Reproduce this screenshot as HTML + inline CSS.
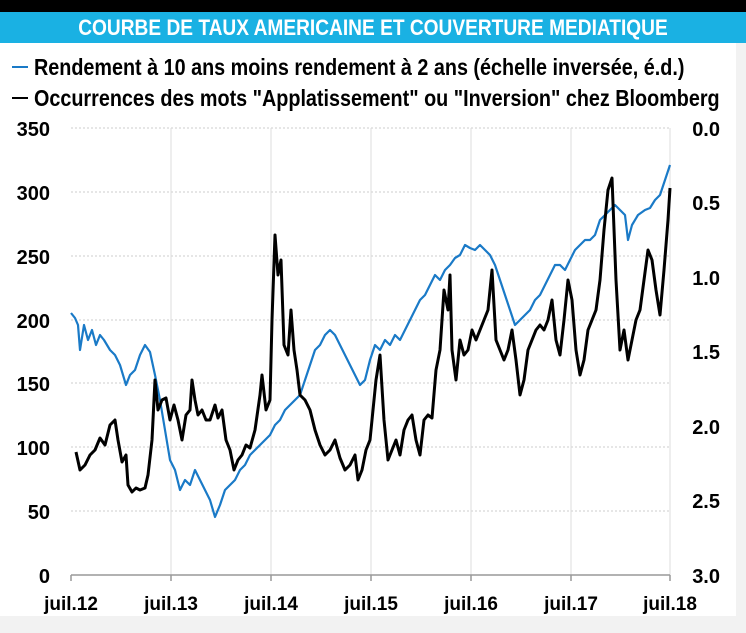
<!DOCTYPE html>
<html><head><meta charset="utf-8"><style>
body{margin:0;width:746px;height:628px;background:#f2f2f2;overflow:hidden;font-family:"Liberation Sans",sans-serif}
svg text{font-family:"Liberation Sans",sans-serif;font-weight:bold}
</style></head><body>
<svg width="746" height="628" xmlns="http://www.w3.org/2000/svg">
<rect x="0" y="0" width="746" height="12" fill="#000"/>
<rect x="0" y="12" width="746" height="31" fill="#1ab1e3"/>
<rect x="0" y="43" width="736" height="573" fill="#fff"/>
<text x="373" y="35" text-anchor="middle" fill="#fff" font-size="22" transform="translate(373,0) scale(0.87,1) translate(-373,0)">COURBE DE TAUX AMERICAINE ET COUVERTURE MEDIATIQUE</text>
<line x1="12" y1="67" x2="28" y2="67" stroke="#1a7ac7" stroke-width="2"/>
<text x="34" y="75" font-size="23" fill="#000" transform="translate(34,0) scale(0.86,1) translate(-34,0)">Rendement à 10 ans moins rendement à 2 ans (échelle inversée, é.d.)</text>
<line x1="12" y1="98" x2="28" y2="98" stroke="#000" stroke-width="2"/>
<text x="34" y="106" font-size="23" fill="#000" transform="translate(34,0) scale(0.86,1) translate(-34,0)">Occurrences des mots "Applatissement" ou "Inversion"  chez Bloomberg</text>
<g stroke="#ccc" stroke-width="1" stroke-dasharray="2,2">
<line x1="71" y1="128" x2="670" y2="128"/><line x1="71" y1="192" x2="670" y2="192"/><line x1="71" y1="256" x2="670" y2="256"/><line x1="71" y1="320" x2="670" y2="320"/><line x1="71" y1="383" x2="670" y2="383"/><line x1="71" y1="447" x2="670" y2="447"/><line x1="71" y1="511" x2="670" y2="511"/>
</g>
<g stroke="#ddd" stroke-width="1">
<line x1="171" y1="128" x2="171" y2="575"/><line x1="271" y1="128" x2="271" y2="575"/><line x1="371" y1="128" x2="371" y2="575"/><line x1="471" y1="128" x2="471" y2="575"/><line x1="571" y1="128" x2="571" y2="575"/><line x1="670" y1="128" x2="670" y2="575"/>
</g>
<g stroke="#999" stroke-width="1.5">
<line x1="71" y1="575" x2="670" y2="575"/>
<line x1="71" y1="575" x2="71" y2="581"/><line x1="171" y1="575" x2="171" y2="581"/><line x1="271" y1="575" x2="271" y2="581"/><line x1="371" y1="575" x2="371" y2="581"/><line x1="471" y1="575" x2="471" y2="581"/><line x1="571" y1="575" x2="571" y2="581"/><line x1="670" y1="575" x2="670" y2="581"/>
</g>
<g font-size="20" fill="#000" text-anchor="end">
<text x="50" y="136">350</text><text x="50" y="200">300</text><text x="50" y="264">250</text><text x="50" y="328">200</text><text x="50" y="391">150</text><text x="50" y="455">100</text><text x="50" y="519">50</text><text x="50" y="583">0</text>
</g>
<g font-size="20" fill="#000" text-anchor="end">
<text x="720" y="136">0.0</text><text x="720" y="210">0.5</text><text x="720" y="285">1.0</text><text x="720" y="359">1.5</text><text x="720" y="434">2.0</text><text x="720" y="508">2.5</text><text x="720" y="583">3.0</text>
</g>
<g font-size="19" fill="#000" text-anchor="middle">
<text x="71" y="610">juil.12</text><text x="171" y="610">juil.13</text><text x="271" y="610">juil.14</text><text x="371" y="610">juil.15</text><text x="471" y="610">juil.16</text><text x="571" y="610">juil.17</text><text x="670" y="610">juil.18</text>
</g>
<polyline fill="none" stroke="#1a7ac7" stroke-width="2.2" stroke-linejoin="round" points="71,313 75,318 78,325 80,350 84,325 88,340 92,330 96,345 100,335 104,340 110,350 115,355 120,365 126,385 130,375 135,370 140,355 145,345 150,352 155,375 160,400 165,430 170,460 175,470 180,490 185,480 190,485 195,470 200,480 205,490 210,500 215,517 220,505 225,490 230,485 235,480 240,470 245,465 250,455 255,450 260,445 265,440 270,435 275,425 280,420 285,410 290,405 295,400 300,395 305,380 310,365 315,350 320,345 325,335 330,330 335,335 340,345 345,355 350,365 355,375 360,385 365,380 370,360 375,345 380,350 385,340 390,345 395,335 400,340 405,330 410,320 415,310 420,300 425,295 430,285 435,275 440,280 445,270 450,265 455,258 460,255 465,245 470,248 475,250 480,245 485,250 490,255 495,265 500,280 505,295 510,310 515,325 520,320 525,315 530,310 535,300 540,295 545,285 550,275 555,265 560,265 565,270 570,260 575,250 580,245 585,240 590,240 595,235 600,220 605,215 610,210 615,205 620,210 625,215 628,240 632,225 638,215 645,210 650,208 655,200 660,195 665,180 670,165"/>
<polyline fill="none" stroke="#000" stroke-width="3" stroke-linejoin="round" points="76,452 80,470 85,465 90,455 95,450 100,438 105,445 110,425 115,420 118,440 122,462 126,455 128,485 132,492 136,488 140,490 145,488 148,475 152,440 155,380 158,410 162,400 166,398 170,420 174,405 178,420 182,440 186,415 190,410 192,380 195,400 198,415 202,410 206,420 210,420 215,405 218,418 222,410 226,440 230,450 234,470 238,460 242,455 246,445 250,448 255,430 260,395 262,375 266,410 270,400 272,320 275,235 278,275 281,260 284,345 288,355 291,310 294,350 297,370 300,395 305,400 310,410 315,430 320,445 325,455 330,450 335,440 340,458 345,470 350,465 355,455 358,480 362,470 366,450 370,440 372,420 376,380 380,355 384,420 388,460 392,450 396,440 400,455 404,430 408,420 412,415 416,440 420,455 424,420 428,415 432,418 436,370 440,350 444,290 448,310 450,275 452,350 456,380 460,340 464,355 468,350 472,330 476,340 480,330 484,320 488,310 492,270 496,340 500,350 504,360 508,350 512,330 516,360 520,395 524,380 528,350 532,340 536,330 540,325 544,330 548,320 552,300 556,340 560,355 564,320 568,280 572,300 576,350 580,375 584,360 588,330 592,320 596,310 600,280 604,230 608,190 612,178 616,280 620,350 624,330 628,360 632,340 636,320 640,310 644,280 648,250 652,260 656,290 660,315 664,270 668,220 670,188"/>
</svg>
</body></html>
